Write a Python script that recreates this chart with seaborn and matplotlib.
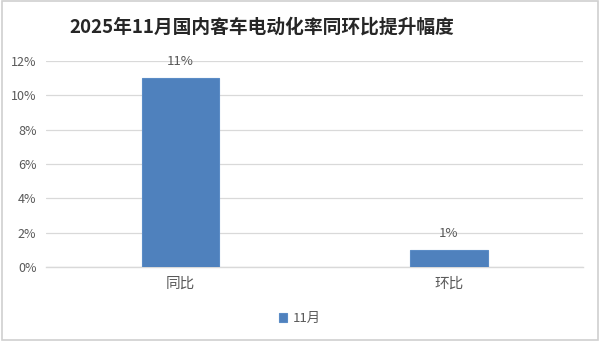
import matplotlib
matplotlib.use("Agg")
import matplotlib.pyplot as plt
from matplotlib.patches import Rectangle
from matplotlib.ticker import FuncFormatter
import seaborn as sns
import pandas as pd

# Chart data
categories = ["同比", "环比"]
values = [11, 1]          # percentage points
series_name = "11月"
y_ticks = [0, 2, 4, 6, 8, 10, 12]
title = "2025年11月国内客车电动化率同环比提升幅度"

sns.set_style("white")
plt.rcParams["font.family"] = ["Noto Sans CJK SC", "DejaVu Sans"]

bar_color = "#4F81BD"
text_gray = "#595959"
grid_gray = "#D9D9D9"

df = pd.DataFrame({"类别": categories, "数值": values})

fig = plt.figure(figsize=(6.0, 3.41), dpi=100)
ax = fig.add_axes([0.077, 0.217, 0.895, 0.604])

sns.barplot(data=df, x="类别", y="数值", color=bar_color, width=0.29,
            saturation=1, edgecolor="#5B8CC6", linewidth=0.8,
            label=series_name, ax=ax, zorder=3)
if ax.get_legend() is not None:
    ax.get_legend().remove()

ax.set_ylim(0, 12)
ax.set_yticks(y_ticks)
ax.yaxis.set_major_formatter(FuncFormatter(lambda v, _: f"{v:.0f}%"))
ax.set_xlabel("")
ax.set_ylabel("")
ax.grid(axis="y", color=grid_gray, linewidth=0.9, zorder=0)
for side in ["top", "right", "left"]:
    ax.spines[side].set_visible(False)
ax.spines["bottom"].set_color(grid_gray)
ax.spines["bottom"].set_linewidth(1.0)
ax.tick_params(axis="y", length=0, labelsize=9, labelcolor=text_gray, pad=7)
ax.tick_params(axis="x", length=0, labelsize=10.5, labelcolor=text_gray, pad=7)

# Value labels above bars
for container in ax.containers:
    ax.bar_label(container, labels=[f"{v}%" for v in values],
                 padding=7, fontsize=9.5, color=text_gray)

fig.suptitle(title, x=0.437, y=0.95, fontsize=13.5, fontweight="bold",
             color="#262626")

handles, labels = ax.get_legend_handles_labels()
fig.legend(handles, labels, loc="center", bbox_to_anchor=(0.5, 0.066),
           frameon=False, fontsize=9.5, handlelength=0.6, handleheight=0.6,
           handletextpad=0.4, labelcolor=text_gray)

# Light frame around the chart area
fig.patches.append(Rectangle((0.003, 0.004), 0.994, 0.992,
                             transform=fig.transFigure, fill=False,
                             edgecolor="#D0D0D0", linewidth=1.2))

fig.savefig("out.png", dpi=100, facecolor="white")
